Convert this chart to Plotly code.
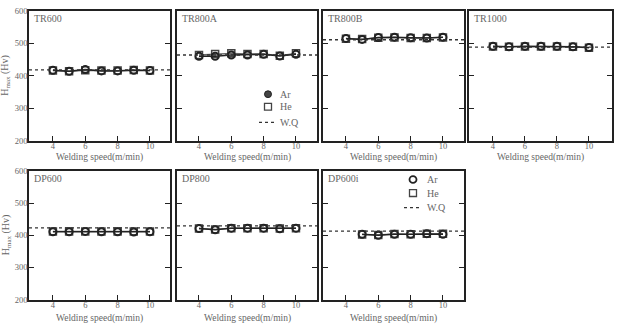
import plotly.graph_objects as go

W, H = 618, 328

speed = [4, 5, 6, 7, 8, 9, 10]
speed_dp600i = [5, 6, 7, 8, 9, 10]
panel_names = ["TR600", "TR800A", "TR800B", "TR1000", "DP600", "DP800", "DP600i"]

tr600_ar = [417, 414, 419, 415, 415, 417, 416]
tr600_he = [416, 414, 417, 416, 416, 418, 416]
tr800a_ar = [460, 460, 464, 464, 466, 461, 466]
tr800a_he = [464, 467, 469, 467, 467, 462, 469]
tr800b_ar = [515, 512, 518, 519, 517, 516, 519]
tr800b_he = [514, 513, 517, 518, 516, 516, 518]
tr1000_ar = [491, 489, 491, 491, 491, 489, 487]
tr1000_he = [490, 489, 490, 490, 490, 489, 486]
dp600_ar = [411, 411, 412, 411, 411, 410, 411]
dp600_he = [412, 412, 412, 412, 412, 412, 412]
dp800_ar = [421, 417, 422, 422, 422, 420, 422]
dp800_he = [421, 418, 422, 422, 422, 421, 422]
dp600i_ar = [403, 400, 403, 403, 405, 403]
dp600i_he = [402, 401, 404, 403, 405, 405]
wq_values = [418, 464, 511, 488, 423, 429, 413]

y_ticks = [200, 300, 400, 500, 600]
x_ticks = [4, 6, 8, 10]

series = [
    (speed, tr600_ar, tr600_he),
    (speed, tr800a_ar, tr800a_he),
    (speed, tr800b_ar, tr800b_he),
    (speed, tr1000_ar, tr1000_he),
    (speed, dp600_ar, dp600_he),
    (speed, dp800_ar, dp800_he),
    (speed_dp600i, dp600i_ar, dp600i_he),
]

# pixel boxes (left, right, top, bottom)
boxes = [
    (29, 170, 6, 140), (177, 317, 6, 140), (323, 464, 6, 140), (469, 612, 6, 140),
    (29, 170, 171, 304), (177, 317, 171, 304), (323, 464, 171, 304),
]
xranges = [[2.52, 11.24], [2.64, 11.3], [2.58, 11.3], [2.5, 11.44],
           [2.52, 11.24], [2.64, 11.3], [2.58, 11.3]]

FONT = "Liberation Serif, Times New Roman, serif"
TXT = "#666666"
AX = "#222222"

fig = go.Figure()
layout = dict(
    width=W, height=H, margin=dict(l=0, r=0, t=0, b=0),
    paper_bgcolor="white", plot_bgcolor="white", showlegend=False,
    font=dict(family=FONT, color=TXT, size=9),
)
shapes = []
annotations = []

def px(x):
    return x / W

def py(y):
    return 1 - y / H

for i, ((xs, ar, he), (l, r, t, b)) in enumerate(zip(series, boxes)):
    n = i + 1
    xa = "x" if n == 1 else f"x{n}"
    ya = "y" if n == 1 else f"y{n}"
    fig.add_trace(go.Scatter(
        x=xs, y=he, xaxis=xa, yaxis=ya, mode="lines+markers",
        line=dict(color="#666666", width=1.3),
        marker=dict(symbol="square-open", size=7, color="#444444", line=dict(width=1.5)),
    ))
    fig.add_trace(go.Scatter(
        x=xs, y=ar, xaxis=xa, yaxis=ya, mode="lines+markers",
        line=dict(color="#222222", width=1.5),
        marker=dict(symbol="circle-open", size=7, color="#222222", line=dict(width=2)),
    ))
    shapes.append(dict(type="line", xref=f"{xa} domain", yref=ya, x0=0, x1=1,
                       y0=wq_values[i], y1=wq_values[i],
                       line=dict(color="#333333", width=1.3, dash="dot")))
    show_y = (i == 0 or i == 4)
    layout[f"xaxis{'' if n == 1 else n}"] = dict(
        domain=[px(l), px(r)], anchor=ya, range=xranges[i],
        tickvals=x_ticks, ticks="inside", ticklen=5, tickwidth=1.3, tickcolor=AX,
        showline=True, linecolor=AX, linewidth=1.5, mirror=True, showgrid=False,
        zeroline=False, ticklabelstandoff=-4,
        tickfont=dict(size=8.5, color=TXT, family=FONT),
    )
    layout[f"yaxis{'' if n == 1 else n}"] = dict(
        domain=[py(b), py(t)], anchor=xa, range=[200, 600],
        tickvals=y_ticks, ticks="inside", ticklen=5, tickwidth=1.3, tickcolor=AX,
        showline=True, linecolor=AX, linewidth=1.5, mirror="ticks", showgrid=False,
        zeroline=False, showticklabels=show_y, ticklabelstandoff=-2,
        tickfont=dict(size=8.5, color=TXT, family=FONT),
    )
    annotations.append(dict(
        text=panel_names[i], xref="paper", yref="paper", x=px(l + 3), y=py(t + 8),
        xanchor="left", yanchor="middle", showarrow=False,
        font=dict(size=10, color=TXT, family=FONT),
    ))
    title_y = 157 if t < 100 else 323
    annotations.append(dict(
        text="Welding speed(m/min)", xref="paper", yref="paper",
        x=px((l + r) / 2), y=py(title_y), xanchor="center", yanchor="middle",
        showarrow=False, font=dict(size=9.5, color=TXT, family=FONT),
    ))

# y axis titles
for yc in [(6 + 140) / 2, (171 + 304) / 2]:
    annotations.append(dict(
        text="H<sub>max</sub> (Hv)", xref="paper", yref="paper", x=px(6), y=py(yc),
        xanchor="center", yanchor="middle", textangle=-90, showarrow=False,
        font=dict(size=10, color=TXT, family=FONT),
    ))

# legends (drawn keys)
def legend(cx, y_ar, y_he, y_wq, tx, filled):
    shapes.append(dict(type="circle", xref="paper", yref="paper",
                       x0=px(cx - 3.5), x1=px(cx + 3.5), y0=py(y_ar + 3.5), y1=py(y_ar - 3.5),
                       line=dict(color="#222222", width=1.8 if not filled else 1),
                       fillcolor="#444444" if filled else "white"))
    shapes.append(dict(type="rect", xref="paper", yref="paper",
                       x0=px(cx - 3.5), x1=px(cx + 3.5), y0=py(y_he + 3.5), y1=py(y_he - 3.5),
                       line=dict(color="#444444", width=1.3), fillcolor="white"))
    shapes.append(dict(type="line", xref="paper", yref="paper",
                       x0=px(cx - 9), x1=px(cx + 8), y0=py(y_wq), y1=py(y_wq),
                       line=dict(color="#333333", width=1.3, dash="dot")))
    for lab, yy in [("Ar", y_ar), ("He", y_he), ("W.Q", y_wq)]:
        annotations.append(dict(text=lab, xref="paper", yref="paper", x=px(tx), y=py(yy),
                                xanchor="left", yanchor="middle", showarrow=False,
                                font=dict(size=10, color=TXT, family=FONT)))

legend(268, 92, 105, 121, 278, True)
legend(413, 180, 194, 209, 425, False)

layout["shapes"] = shapes
layout["annotations"] = annotations
fig.update_layout(**layout)
fig.write_html("out.html")
